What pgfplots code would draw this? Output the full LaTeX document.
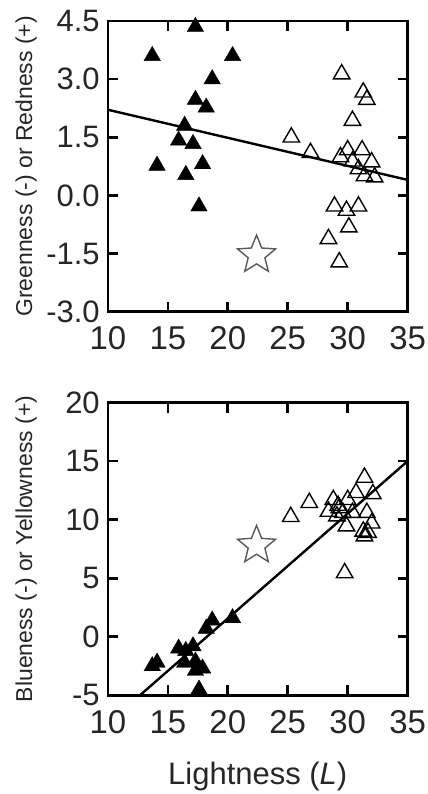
\documentclass[border=0pt]{standalone}
\usepackage{fontspec}
\setmainfont{Liberation Sans}
\usepackage{pgfplots}
\pgfplotsset{compat=1.18}

% five-pointed star mark
\pgfdeclareplotmark{star5}{%
  \pgfpathmoveto{\pgfqpointpolar{90}{\pgfplotmarksize}}%
  \pgfpathlineto{\pgfqpointpolar{126}{0.44\pgfplotmarksize}}%
  \pgfpathlineto{\pgfqpointpolar{162}{\pgfplotmarksize}}%
  \pgfpathlineto{\pgfqpointpolar{198}{0.44\pgfplotmarksize}}%
  \pgfpathlineto{\pgfqpointpolar{234}{\pgfplotmarksize}}%
  \pgfpathlineto{\pgfqpointpolar{270}{0.44\pgfplotmarksize}}%
  \pgfpathlineto{\pgfqpointpolar{306}{\pgfplotmarksize}}%
  \pgfpathlineto{\pgfqpointpolar{342}{0.44\pgfplotmarksize}}%
  \pgfpathlineto{\pgfqpointpolar{18}{\pgfplotmarksize}}%
  \pgfpathlineto{\pgfqpointpolar{54}{0.44\pgfplotmarksize}}%
  \pgfpathclose
  \pgfusepathqfillstroke
}

\pgfplotsset{
  panel/.style={
    scale only axis, width=300bp,
    xmin=10, xmax=35, xtick={10,15,20,25,30,35},
    xticklabels={10,15,20,25,30,35},
    axis line style={line width=2.6bp},
    major tick length=10bp,
    tick style={black, line width=2.6bp},
    xticklabel style={font=\fontsize{33bp}{33bp}\selectfont, text=black!85, inner sep=0pt, anchor=north, yshift=-15bp},
    yticklabel style={font=\fontsize{31bp}{31bp}\selectfont, text=black!85, inner sep=0pt, anchor=east, xshift=-8bp},
    ylabel style={font=\fontsize{23bp}{23bp}\selectfont, text=black!85, at={(axis description cs:-0.273,0.5)}, anchor=center},
  },
  filled/.style={only marks, mark=triangle*, mark size=9.5bp, mark options={fill=black, draw=black}},
  open/.style={only marks, mark=triangle, mark size=9.5bp, mark options={draw=black, line width=1.4bp}},
  starmark/.style={only marks, mark=star5, mark size=20bp, mark options={draw=black!65, fill=white, line width=1.4bp}},
}

\begin{document}
\begin{tikzpicture}

% a* (greenness / redness)
\begin{axis}[panel, height=291bp, at={(108bp,482bp)}, anchor=south west,
  ymin=-3, ymax=4.5, ytick={-3,-1.5,0,1.5,3,4.5},
  yticklabels={-3.0,-1.5,0.0,1.5,3.0,4.5},
  ylabel={Greenness (-) or Redness (+)}]
\addplot[line width=2.4bp, black] coordinates {(10,2.21) (35,0.40)};
\addplot[filled] coordinates {
  (17.3,4.35) (13.7,3.60) (20.4,3.60) (18.7,3.00) (17.3,2.47) (18.2,2.27)
  (16.4,1.80) (15.9,1.42) (17.1,1.33) (14.1,0.77) (17.9,0.81) (16.5,0.53)
  (17.6,-0.28)};
\addplot[open] coordinates {
  (29.5,3.13) (31.3,2.66) (31.6,2.47) (30.4,1.93) (25.3,1.50) (26.9,1.10)
  (30.0,1.17) (31.2,1.17) (29.4,0.99) (30.4,0.88) (32.0,0.86) (30.9,0.68)
  (31.4,0.50) (32.25,0.47) (28.9,-0.28) (29.9,-0.39) (30.9,-0.28)
  (30.1,-0.82) (28.4,-1.12) (29.3,-1.72)};
\addplot[starmark] coordinates {(22.4,-1.54)};
\end{axis}

% b* (blueness / yellowness)
\begin{axis}[panel, height=293bp, at={(108bp,98bp)}, anchor=south west,
  ymin=-5, ymax=20, ytick={-5,0,5,10,15,20},
  yticklabels={-5,0,5,10,15,20},
  ylabel={Blueness (-) or Yellowness (+)},
  xlabel={Lightness (\textit{L})},
  xlabel style={font=\fontsize{31bp}{31bp}\selectfont, text=black!85, at={(axis description cs:0.5,0)}, yshift=-81bp, anchor=center}]
\addplot[line width=2.4bp, black] coordinates {(12.67,-5) (35,15)};
\addplot[filled] coordinates {
  (13.7,-2.5) (14.1,-2.2) (15.9,-1.0) (16.4,-2.2) (16.5,-1.2) (17.1,-0.8)
  (17.3,-2.9) (17.3,-2.1) (17.6,-4.5) (17.9,-2.7) (18.2,0.7) (18.7,1.4)
  (20.4,1.6)};
\addplot[open] coordinates {
  (31.4,13.6) (26.8,11.45) (28.8,11.7) (30.7,12.3) (32.1,12.2) (30.0,11.7)
  (28.4,10.7) (29.2,11.2) (29.6,10.6) (30.4,10.6) (31.6,10.6) (29.9,9.45)
  (31.3,9.0) (31.7,8.9) (31.4,8.6) (29.75,5.45) (29.1,10.3) (29.3,11.0)
  (25.25,10.25) (32.0,9.7)};
\addplot[starmark] coordinates {(22.4,7.8)};
\end{axis}
\path[use as bounding box] (0bp,0bp) rectangle (428bp,794bp);
\end{tikzpicture}
\end{document}
